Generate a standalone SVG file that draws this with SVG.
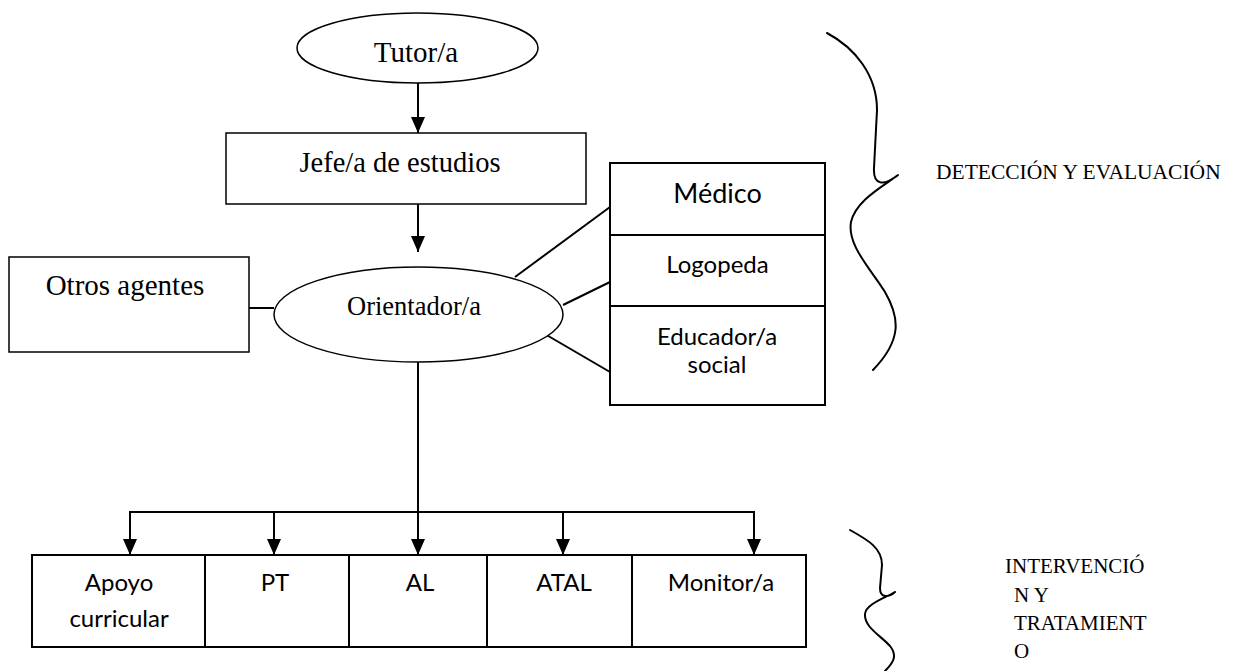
<svg xmlns="http://www.w3.org/2000/svg" width="1233" height="671" viewBox="0 0 1233 671">
<style>
.serif{font-family:"Liberation Serif","Times New Roman",serif;fill:#000}
.sans{font-family:Lato,"Liberation Sans",sans-serif;fill:#000}
.thin{fill:#fff;stroke:#000;stroke-width:1.5}
.thick{fill:#fff;stroke:#000;stroke-width:2}
.ln{fill:none;stroke:#000;stroke-width:2}
.brace{fill:none;stroke:#000;stroke-width:2;stroke-linecap:round;stroke-linejoin:round}
</style>
<defs>
<marker id="ah" markerWidth="8" markerHeight="7" refX="8" refY="3.5" orient="auto" markerUnits="strokeWidth">
<path d="M0,0 L8,3.5 L0,7 Z" fill="#000"/>
</marker>
</defs>
<rect width="1233" height="671" fill="#fff"/>

<g id="connectors">
<line class="ln" x1="418" y1="83" x2="418" y2="133" marker-end="url(#ah)"/>
<line class="ln" x1="418" y1="204" x2="418" y2="252" marker-end="url(#ah)"/>
<line class="ln" x1="249" y1="308" x2="274" y2="308"/>
<line class="ln" x1="515" y1="277" x2="610" y2="207"/>
<line class="ln" x1="563" y1="305" x2="610" y2="282"/>
<line class="ln" x1="538" y1="330" x2="610" y2="372"/>
<line class="ln" x1="418" y1="362" x2="418" y2="555" marker-end="url(#ah)"/>
<line class="ln" x1="130" y1="512" x2="754" y2="512"/>
<line class="ln" x1="130" y1="511" x2="130" y2="555" marker-end="url(#ah)"/>
<line class="ln" x1="274" y1="511" x2="274" y2="555" marker-end="url(#ah)"/>
<line class="ln" x1="563" y1="511" x2="563" y2="555" marker-end="url(#ah)"/>
<line class="ln" x1="754" y1="511" x2="754" y2="555" marker-end="url(#ah)"/>
</g>

<g id="tutor">
<ellipse class="thin" cx="417.5" cy="48" rx="120.5" ry="35"/>
<text class="serif" x="416" y="62" font-size="29" text-anchor="middle">Tutor/a</text>
</g>

<g id="jefe">
<rect class="thin" x="226" y="133" width="360" height="71"/>
<text class="serif" x="400" y="172" font-size="28.5" text-anchor="middle">Jefe/a de estudios</text>
</g>

<g id="otros">
<rect class="thin" x="9" y="257" width="240" height="95"/>
<text class="serif" x="125" y="295" font-size="29" text-anchor="middle">Otros agentes</text>
</g>

<g id="orientador">
<ellipse class="thin" cx="418.5" cy="314.5" rx="144.5" ry="47.5"/>
<text class="serif" x="414" y="315" font-size="26.5" text-anchor="middle">Orientador/a</text>
</g>

<g id="medico">
<rect class="thick" x="610" y="163" width="215" height="72"/>
<text class="sans" x="717.5" y="203" font-size="27" text-anchor="middle">Médico</text>
</g>
<g id="logopeda">
<rect class="thick" x="610" y="235" width="215" height="71"/>
<text class="sans" x="717.5" y="273" font-size="24" text-anchor="middle">Logopeda</text>
</g>
<g id="educador">
<rect class="thick" x="610" y="306" width="215" height="99"/>
<text class="sans" x="717" y="345" font-size="24" text-anchor="middle">Educador/a</text>
<text class="sans" x="717" y="373" font-size="24" text-anchor="middle">social</text>
</g>

<g id="apoyo">
<rect class="thick" x="32" y="555" width="173" height="92"/>
<text class="sans" x="119" y="591" font-size="24" text-anchor="middle">Apoyo</text>
<text class="sans" x="119" y="627" font-size="24" text-anchor="middle">curricular</text>
</g>
<g id="pt">
<rect class="thick" x="205" y="555" width="144" height="92"/>
<text class="sans" x="275" y="591" font-size="24" text-anchor="middle">PT</text>
</g>
<g id="al">
<rect class="thick" x="349" y="555" width="138" height="92"/>
<text class="sans" x="420" y="591" font-size="24" text-anchor="middle">AL</text>
</g>
<g id="atal">
<rect class="thick" x="487" y="555" width="145" height="92"/>
<text class="sans" x="564" y="591" font-size="24" text-anchor="middle">ATAL</text>
</g>
<g id="monitor">
<rect class="thick" x="632" y="555" width="174" height="92"/>
<text class="sans" x="721" y="591" font-size="24" text-anchor="middle">Monitor/a</text>
</g>

<g id="deteccion">
<path class="brace" d="M827,33 C855,48 877,75 877,110 L874,168 C873,186 884,186 898,175 C884,186 856,200 851,222 C847,245 870,268 885,292 C900,318 902,340 873,370"/>
<text class="serif" x="936" y="179" font-size="21.5">DETECCIÓN Y EVALUACIÓN</text>
</g>

<g id="intervencion">
<path class="brace" d="M850,530 C868,540 882,548 882,565 L880,588 C880,598 888,598 895,592 C885,598 866,604 865,614 C864,627 880,635 890,646 C898,656 893,663 885,671"/>
<text class="serif" font-size="21">
<tspan x="1005" y="573">INTERVENCIÓ</tspan>
<tspan x="1014" y="602">N Y</tspan>
<tspan x="1014" y="630">TRATAMIENT</tspan>
<tspan x="1014" y="658">O</tspan>
</text>
</g>
</svg>
